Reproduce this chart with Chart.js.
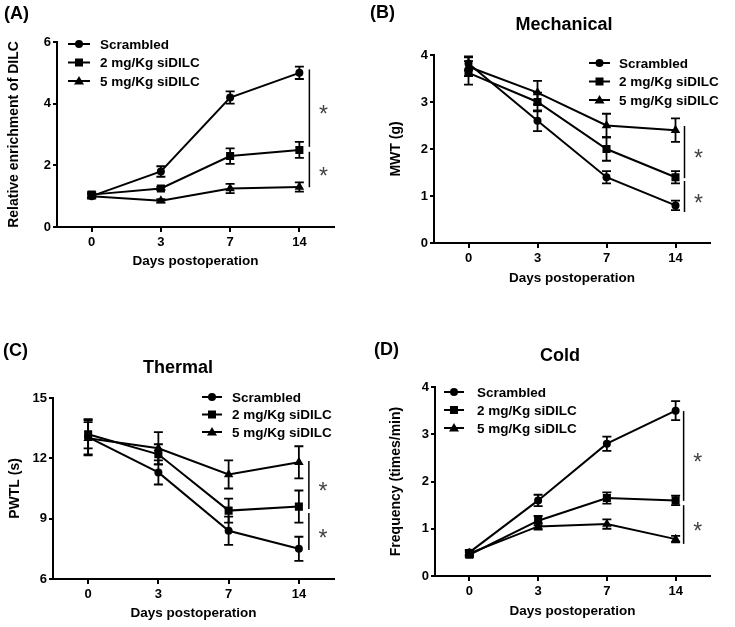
<!DOCTYPE html>
<html>
<head>
<meta charset="utf-8">
<script src="https://cdn.jsdelivr.net/npm/chart.js@4.4.1/dist/chart.umd.min.js"></script>
<style>
  body { margin: 0; background: #fff; }
  .panel { position: absolute; }
</style>
</head>
<body>
<div class="panel" style="left:0;top:0"><canvas id="chartA" width="367" height="313"></canvas></div>
<div class="panel" style="left:367px;top:0"><canvas id="chartB" width="368" height="313"></canvas></div>
<div class="panel" style="left:0;top:313px"><canvas id="chartC" width="367" height="314"></canvas></div>
<div class="panel" style="left:367px;top:313px"><canvas id="chartD" width="368" height="314"></canvas></div>
<script>
const days = ["0", "3", "7", "14"];
const groups = ["Scrambled", "2 mg/Kg siDILC", "5 mg/Kg siDILC"];
const markers = ["circle", "rect", "triangle"];

// (A) relative enrichment of DILC
const dilcScrambled = [1.0, 1.8, 4.2, 5.0];
const dilcScrambledErr = [0.08, 0.17, 0.2, 0.2];
const dilc2mg = [1.05, 1.25, 2.3, 2.5];
const dilc2mgErr = [0.08, 0.05, 0.25, 0.26];
const dilc5mg = [1.0, 0.85, 1.25, 1.3];
const dilc5mgErr = [0.05, 0.05, 0.15, 0.15];
const dilcBrackets = [[5.11, 2.6], [2.44, 1.29]];

// (B) mechanical, MWT (g)
const mwtScrambled = [3.82, 2.6, 1.4, 0.8];
const mwtScrambledErr = [0.15, 0.22, 0.13, 0.1];
const mwt2mg = [3.62, 3.0, 2.0, 1.4];
const mwt2mgErr = [0.25, 0.2, 0.25, 0.13];
const mwt5mg = [3.75, 3.2, 2.5, 2.4];
const mwt5mgErr = [0.2, 0.25, 0.25, 0.25];
const mwtBrackets = [[2.49, 1.38], [1.32, 0.66]];

// (C) thermal, PWTL (s)
const pwtlScrambled = [13.05, 11.3, 8.4, 7.5];
const pwtlScrambledErr = [0.9, 0.6, 0.7, 0.6];
const pwtl2mg = [13.2, 12.2, 9.4, 9.6];
const pwtl2mgErr = [0.7, 0.5, 0.6, 0.8];
const pwtl5mg = [13.0, 12.5, 11.2, 11.8];
const pwtl5mgErr = [0.8, 0.8, 0.7, 0.8];
const pwtlBrackets = [[11.87, 9.48], [9.28, 7.44]];

// (D) cold, frequency (times/min)
const freqScrambled = [0.5, 1.6, 2.8, 3.5];
const freqScrambledErr = [0.05, 0.12, 0.15, 0.2];
const freq2mg = [0.45, 1.17, 1.65, 1.6];
const freq2mgErr = [0.05, 0.1, 0.12, 0.1];
const freq5mg = [0.48, 1.05, 1.1, 0.78];
const freq5mgErr = [0.05, 0.07, 0.1, 0.07];
const freqBrackets = [[3.49, 1.59], [1.5, 0.68]];

const FONT = "'Liberation Sans', Arial, sans-serif";

function drawMarker(ctx, style, x, y) {
  ctx.beginPath();
  if (style === "circle") {
    ctx.arc(x, y, 4, 0, Math.PI * 2);
  } else if (style === "rect") {
    ctx.rect(x - 4, y - 4, 8, 8);
  } else {
    ctx.moveTo(x, y - 5);
    ctx.lineTo(x + 5, y + 3.5);
    ctx.lineTo(x - 5, y + 3.5);
    ctx.closePath();
  }
  ctx.fill();
}

function figurePlugin(p) {
  return {
    id: "figure",
    beforeDatasetsDraw(chart) {
      // error bars (mean +/- SD)
      const ctx = chart.ctx;
      const y = chart.scales.y;
      ctx.save();
      ctx.strokeStyle = "#000";
      ctx.lineWidth = 1.8;
      chart.data.datasets.forEach((ds, i) => {
        chart.getDatasetMeta(i).data.forEach((pt, j) => {
          const top = y.getPixelForValue(ds.data[j] + ds.errors[j]);
          const bot = y.getPixelForValue(ds.data[j] - ds.errors[j]);
          ctx.beginPath();
          ctx.moveTo(pt.x, top); ctx.lineTo(pt.x, bot);
          ctx.moveTo(pt.x - 4.5, top); ctx.lineTo(pt.x + 4.5, top);
          ctx.moveTo(pt.x - 4.5, bot); ctx.lineTo(pt.x + 4.5, bot);
          ctx.stroke();
        });
      });
      ctx.restore();
    },
    afterDraw(chart) {
      const ctx = chart.ctx;
      const x = chart.scales.x;
      const y = chart.scales.y;
      ctx.save();
      ctx.fillStyle = "#000";
      ctx.textBaseline = "middle";

      ctx.font = "bold 18px " + FONT;
      ctx.textAlign = "left";
      ctx.fillText(p.label, p.labelX, p.labelY);

      if (p.title) {
        ctx.textAlign = "center";
        ctx.fillText(p.title, p.titleX, p.titleY);
      }

      // legend
      const lg = p.legend;
      ctx.font = "bold 13.5px " + FONT;
      ctx.textAlign = "left";
      ctx.lineWidth = 2;
      ctx.strokeStyle = "#000";
      groups.forEach((g, i) => {
        const ly = lg.y + i * lg.dy;
        ctx.beginPath();
        ctx.moveTo(lg.x, ly);
        ctx.lineTo(lg.x + lg.len, ly);
        ctx.stroke();
        drawMarker(ctx, markers[i], lg.x + lg.len / 2, ly);
        ctx.fillText(g, lg.textX, ly + 1);
      });

      // significance brackets
      const bx = x.getPixelForValue(3) + p.bracketDx;
      ctx.lineWidth = 1.5;
      ctx.font = "23px " + FONT;
      ctx.fillStyle = "#444";
      ctx.textAlign = "center";
      p.brackets.forEach(b => {
        const y1 = y.getPixelForValue(b[0]);
        const y2 = y.getPixelForValue(b[1]);
        ctx.beginPath();
        ctx.moveTo(bx, y1);
        ctx.lineTo(bx, y2);
        ctx.stroke();
        ctx.fillText("*", bx + 14, (y1 + y2) / 2 + 8);
      });
      ctx.restore();
    }
  };
}

function makePanel(id, p) {
  const W = p.width, H = p.height;
  const padLeft = p.yTitleX - 8.4 - 4;
  const yWidth = p.area.left - padLeft;
  const xHeight = p.xTitleY + 8.1 + 4 - p.area.bottom;
  const padBottom = H - p.area.bottom - xHeight;

  const datasets = p.series.map((s, i) => ({
    label: groups[i],
    data: s[0],
    errors: s[1],
    borderColor: "#000",
    backgroundColor: "#000",
    borderWidth: 2,
    tension: 0,
    pointStyle: markers[i],
    pointRadius: markers[i] === "rect" ? 5.7 : (markers[i] === "triangle" ? 5.5 : 4),
    pointBackgroundColor: "#000",
    pointBorderColor: "#000",
    pointBorderWidth: 0
  }));

  return new Chart(document.getElementById(id), {
    type: "line",
    data: { labels: days, datasets },
    options: {
      responsive: false,
      animation: false,
      layout: {
        padding: { left: padLeft, top: p.area.top, right: W - p.area.right, bottom: padBottom }
      },
      plugins: {
        legend: { display: false },
        tooltip: { enabled: false }
      },
      scales: {
        x: {
          type: "category",
          offset: true,
          afterFit(scale) { scale.height = xHeight; },
          grid: { display: true, drawOnChartArea: false, drawTicks: true, tickLength: 5, color: "#000", lineWidth: 2 },
          border: { display: true, color: "#000", width: 2 },
          ticks: { color: "#000", padding: 3, font: { family: FONT, size: 13, weight: "bold" } },
          title: { display: true, text: "Days postoperation", color: "#000", font: { family: FONT, size: 13.5, weight: "bold" } }
        },
        y: {
          min: p.yMin,
          max: p.yMax,
          afterFit(scale) { scale.width = yWidth; },
          grid: { display: true, drawOnChartArea: false, drawTicks: true, tickLength: 4, color: "#000", lineWidth: 2 },
          border: { display: true, color: "#000", width: 2 },
          ticks: { stepSize: p.yStep, color: "#000", padding: 2, font: { family: FONT, size: 13, weight: "bold" } },
          title: { display: true, text: p.yTitle, color: "#000", font: { family: FONT, size: 14, weight: "bold" } }
        }
      }
    },
    plugins: [figurePlugin(p)]
  });
}

makePanel("chartA", {
  width: 367, height: 313,
  area: { left: 57, right: 334, top: 42, bottom: 227 },
  yMin: 0, yMax: 6, yStep: 2,
  yTitle: "Relative enrichment of DILC", yTitleX: 14, xTitleY: 261,
  series: [[dilcScrambled, dilcScrambledErr], [dilc2mg, dilc2mgErr], [dilc5mg, dilc5mgErr]],
  label: "(A)", labelX: 4, labelY: 14,
  legend: { x: 68, len: 22, textX: 100, y: 44, dy: 18.5 },
  brackets: dilcBrackets, bracketDx: 10
});

makePanel("chartB", {
  width: 368, height: 313,
  area: { left: 67, right: 343, top: 55, bottom: 243 },
  yMin: 0, yMax: 4, yStep: 1,
  yTitle: "MWT (g)", yTitleX: 29, xTitleY: 278,
  series: [[mwtScrambled, mwtScrambledErr], [mwt2mg, mwt2mgErr], [mwt5mg, mwt5mgErr]],
  label: "(B)", labelX: 3, labelY: 13,
  title: "Mechanical", titleX: 197, titleY: 25,
  legend: { x: 222, len: 21, textX: 252, y: 63, dy: 18.5 },
  brackets: mwtBrackets, bracketDx: 9
});

makePanel("chartC", {
  width: 367, height: 314,
  area: { left: 53, right: 334, top: 85, bottom: 266 },
  yMin: 6, yMax: 15, yStep: 3,
  yTitle: "PWTL (s)", yTitleX: 15, xTitleY: 300,
  series: [[pwtlScrambled, pwtlScrambledErr], [pwtl2mg, pwtl2mgErr], [pwtl5mg, pwtl5mgErr]],
  label: "(C)", labelX: 3, labelY: 38,
  title: "Thermal", titleX: 178, titleY: 55,
  legend: { x: 202, len: 20, textX: 232, y: 84, dy: 17.5 },
  brackets: pwtlBrackets, bracketDx: 10
});

makePanel("chartD", {
  width: 368, height: 314,
  area: { left: 68, right: 343, top: 74, bottom: 263 },
  yMin: 0, yMax: 4, yStep: 1,
  yTitle: "Frequency (times/min)", yTitleX: 29, xTitleY: 298,
  series: [[freqScrambled, freqScrambledErr], [freq2mg, freq2mgErr], [freq5mg, freq5mgErr]],
  label: "(D)", labelX: 7, labelY: 37,
  title: "Cold", titleX: 193, titleY: 43,
  legend: { x: 77, len: 20, textX: 110, y: 79, dy: 18 },
  brackets: freqBrackets, bracketDx: 8
});
</script>
</body>
</html>
